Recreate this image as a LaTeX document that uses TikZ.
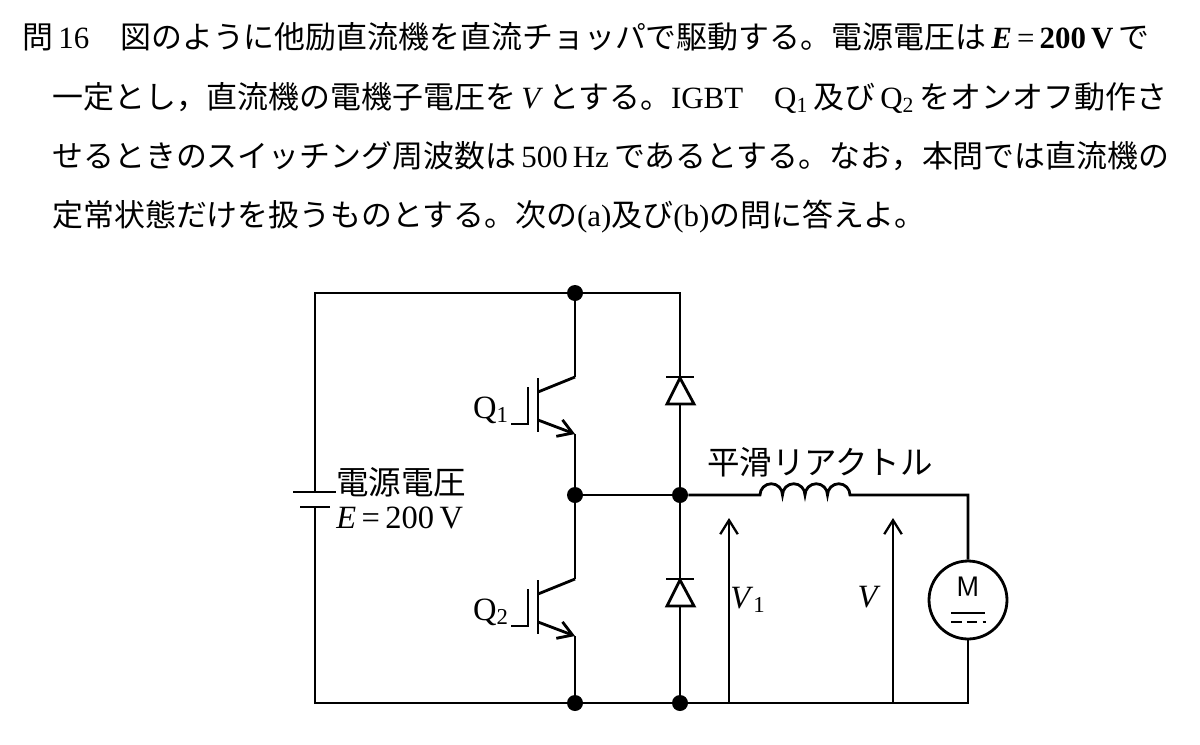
\documentclass[tikz,border=0pt]{standalone}
\usepackage{fontspec}
\setmainfont{Liberation Serif}
\newfontfamily\jp{Noto Sans CJK JP}
\usetikzlibrary{arrows.meta}
\tikzset{
  wire/.style = {line width=1.6pt},
  junction/.style = {circle, fill=black, inner sep=0pt, minimum size=0.32cm},
  headline/.style = {anchor=base west, inner sep=0pt, font=\fontsize{17.6}{22}\selectfont},
  circlabel/.style = {inner sep=0pt, font=\fontsize{18.5}{22}\selectfont}
}
\begin{document}
\begin{tikzpicture}[x=0.02cm, y=-0.02cm]
   \useasboundingbox (0,0) rectangle (1200,744);

   % question text
   \node[headline] (line1) at (22,48)  {{\jp 問}\,16\quad{\jp 図のように他励直流機を直流チョッパで駆動する。電源電圧は}\,\textbf{\textit{E}}\,=\,\textbf{200\,V}\,{\jp で}};
   \node[headline] (line2) at (52,108) {{\jp 一定とし，直流機の電機子電圧を}\,\textit{V}\,{\jp とする。}IGBT\quad Q\textsubscript{1}\,{\jp 及び}\,Q\textsubscript{2}\,{\jp をオンオフ動作さ}};
   \node[headline] (line3) at (52,167) {{\jp せるときのスイッチング周波数は}\,500\,Hz\,{\jp であるとする。なお，本問では直流機の}};
   \node[headline] (line4) at (52,226) {{\jp 定常状態だけを扱うものとする。次の}(a){\jp 及び}(b){\jp の問に答えよ。}};

   % junctions
   \node[junction] (top)   at (575,293) {};
   \node[junction] (mid)   at (575,495) {};
   \node[junction] (bot)   at (575,703) {};
   \node[junction] (dmid)  at (680,495) {};
   \node[junction] (dbot)  at (680,703) {};
   \coordinate (tr) at (680,293);
   \coordinate (tl) at (315,293);
   \coordinate (bl) at (315,703);
   \coordinate (br) at (968,703);
   \coordinate (mr) at (968,495);
   \node[draw, wire, circle, minimum size=1.56cm, inner sep=0pt] (motor) at (968,600) {};

   % source
   \coordinate (bplus)  at (315,492);
   \coordinate (bminus) at (315,507);
   \draw[wire] (bminus) -- (bl) -- (bot) -- (dbot) -- (br) -- (motor.south);
   \draw[wire] (bplus) -- (tl) -- (top) -- (tr) -- (dmid) -- (dbot);
   \draw[wire] (293,492) -- (336,492);
   \draw[wire] (300,507) -- (330,507);
   \node[circlabel, anchor=west] (srcname) at (336,482) {\jp 電源電圧};
   \node[circlabel, anchor=west] (srcval)  at (336,518) {\textit{E}\,=\,200\,V};

   % IGBTs
   \foreach \q/\dy in {1/0, 2/202} {
      \coordinate (c\q) at (575,377+\dy);
      \coordinate (e\q) at (575,434+\dy);
      \draw[wire] (c\q) -- (538,392+\dy);
      \draw[wire] (538,378+\dy) -- (538,432+\dy);
      \draw[wire] (511,424+\dy) -- (528,424+\dy) -- (528,387+\dy);
      \draw[wire, -{Straight Barb[length=8pt, width=10pt]}] (538,420+\dy) -- (e\q);
      \node[circlabel] (q\q) at (491,410+\dy) {Q\textsubscript{\q}};
   }
   \draw[wire] (top) -- (c1);
   \draw[wire] (e1) -- (mid) -- (c2);
   \draw[wire] (e2) -- (bot);
   \draw[wire] (mid) -- (dmid);

   % diodes
   \foreach \dy in {0, 202} {
      \draw[wire, fill=white] (667,404+\dy) -- (694,404+\dy) -- (680,378+\dy) -- cycle;
      \draw[wire] (666,377+\dy) -- (694,377+\dy);
   }

   % reactor
   \draw[wire] (dmid) -- (760,495)
      arc[start angle=180, end angle=360, radius=11.25]
      arc[start angle=180, end angle=360, radius=11.25]
      arc[start angle=180, end angle=360, radius=11.25]
      arc[start angle=180, end angle=360, radius=11.25]
      -- (mr) -- (motor.north);
   \node[circlabel] (reactor) at (820,462) {\jp 平滑リアクトル};

   % motor marks
   \node[inner sep=0pt, font=\sffamily\fontsize{16}{18}\selectfont] (mname) at (968,587) {M};
   \draw[line width=1.2pt] (951,613) -- (985,613);
   \draw[line width=1.2pt, dash pattern=on 6pt off 3pt] (951,622) -- (986,622);

   % voltages
   \coordinate (v1foot) at (729,703);
   \coordinate (vfoot)  at (893,703);
   \draw[line width=1.3pt, -{Straight Barb[length=8pt, width=10pt]}] (v1foot) -- (729,518);
   \draw[line width=1.3pt, -{Straight Barb[length=8pt, width=10pt]}] (vfoot) -- (893,518);
   \node[circlabel] (v1) at (748,600) {\textit{V}\textsubscript{1}};
   \node[circlabel] (v)  at (869,597) {\textit{V}};
\end{tikzpicture}
\end{document}
